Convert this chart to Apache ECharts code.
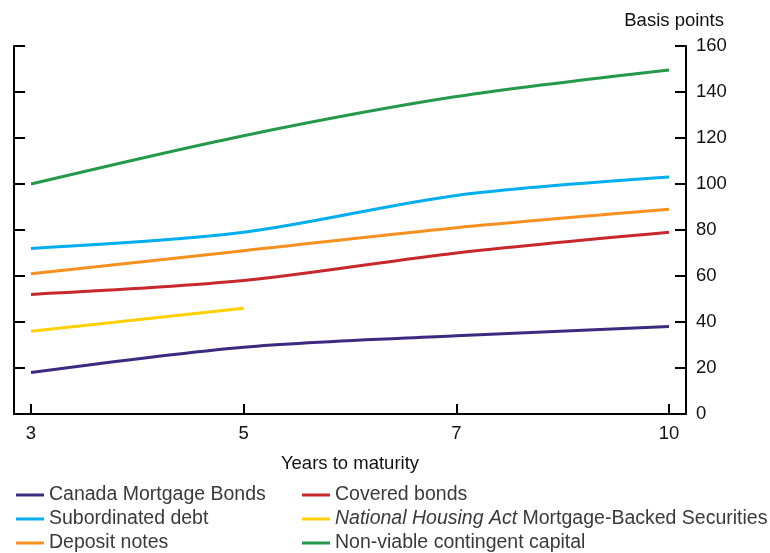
<!DOCTYPE html>
<html>
<head>
<meta charset="utf-8">
<script src="https://cdn.jsdelivr.net/npm/echarts@6/dist/echarts.min.js"></script>
<style>
html,body{margin:0;padding:0;background:#fff;}
#c{width:770px;height:553px;}
</style>
</head>
<body>
<div id="c"></div>
<script>
var categories = ['3', '5', '7', '10'];
var canadaMortgageBonds = [18, 29, 34, 38];
var coveredBonds = [52, 58, 70, 79];
var subordinatedDebt = [72, 79, 95, 103];
var nhaMbs = [36, 46];
var depositNotes = [61, 71, 81, 89];
var nvcc = [100, 121, 138, 149.6];
var yTicks = [0, 20, 40, 60, 80, 100, 120, 140, 160];

var FONT = 'Liberation Sans, Arial, sans-serif';
var FS = 18.5;
var LFS = 19.5;

function pairs(arr) { return arr.map(function (v, i) { return [i, v]; }); }

var seriesDefs = [
  { name: 'Canada Mortgage Bonds', data: canadaMortgageBonds, color: '#3d2a80' },
  { name: 'Covered bonds', data: coveredBonds, color: '#c8282c' },
  { name: 'Subordinated debt', data: subordinatedDebt, color: '#00aeef' },
  { name: 'NHA MBS', data: nhaMbs, color: '#ffd000' },
  { name: 'Deposit notes', data: depositNotes, color: '#f7901e' },
  { name: 'Non-viable contingent capital', data: nvcc, color: '#24994a' }
];

var series = seriesDefs.map(function (s) {
  return {
    name: s.name, type: 'line', data: pairs(s.data), smooth: 0.3,
    symbol: 'none', lineStyle: { color: s.color, width: 3 }, itemStyle: { color: s.color },
    animation: false
  };
});

var legendPos = [
  ['Canada Mortgage Bonds', 16, 493],
  ['Subordinated debt', 16, 517],
  ['Deposit notes', 16, 541],
  ['Covered bonds', 302, 493],
  ['NHA MBS', 302, 517],
  ['Non-viable contingent capital', 302, 541]
];
var legends = legendPos.map(function (l) {
  return {
    data: [l[0]], left: l[1], top: l[2] - 8, itemWidth: 28, itemHeight: 3, icon: 'rect',
    padding: 0, itemGap: 0,
    formatter: function (n) {
      if (n === 'NHA MBS') return '{i|National Housing Act} Mortgage-Backed Securities';
      return n;
    },
    textStyle: {
      fontFamily: FONT, fontSize: LFS, color: '#3a3a3a', padding: [0, 0, 0, 0],
      rich: { i: { fontStyle: 'italic', fontFamily: FONT, fontSize: LFS, color: '#3a3a3a' } }
    }
  };
});

var axisLineStyle = { color: '#000', width: 2 };

var option = {
  backgroundColor: '#fff',
  animation: false,
  title: {
    text: 'Basis points', right: 41, top: 6,
    textStyle: { fontFamily: FONT, fontSize: FS, fontWeight: 'normal', color: '#111' }
  },
  legend: legends,
  grid: { left: 14, right: 84, top: 46, bottom: 139, containLabel: false },
  xAxis: {
    type: 'value', min: -0.08, max: 3.08,
    name: 'Years to maturity', nameLocation: 'middle', nameGap: 40,
    nameTextStyle: { fontFamily: FONT, fontSize: FS, color: '#111' },
    axisLine: { show: true, onZero: false, lineStyle: axisLineStyle },
    axisTick: { show: true, inside: true, length: 10, lineStyle: { color: '#000', width: 2 },
      customValues: [0, 1, 2, 3] },
    axisLabel: { fontFamily: FONT, fontSize: FS, color: '#111', margin: 10,
      customValues: [0, 1, 2, 3],
      formatter: function (v) { return categories[Math.round(v)]; } },
    splitLine: { show: false }
  },
  yAxis: [
    {
      type: 'value', min: 0, max: 160, interval: 20, position: 'right',
      axisLine: { show: true, onZero: false, lineStyle: axisLineStyle },
      axisTick: { show: true, inside: true, length: 11, lineStyle: { color: '#000', width: 2 } },
      axisLabel: { fontFamily: FONT, fontSize: FS, color: '#111', margin: 10,
        formatter: function (v) { return yTicks.indexOf(v) >= 0 ? String(v) : ''; } },
      splitLine: { show: false }
    },
    {
      type: 'value', min: 0, max: 160, interval: 20, position: 'left',
      axisLine: { show: true, onZero: false, lineStyle: axisLineStyle },
      axisTick: { show: true, inside: true, length: 11, lineStyle: { color: '#000', width: 2 } },
      axisLabel: { show: false },
      splitLine: { show: false }
    }
  ],
  series: series
};

var chart = echarts.init(document.getElementById('c'), null, { renderer: 'canvas' });
chart.setOption(option);
</script>
</body>
</html>
